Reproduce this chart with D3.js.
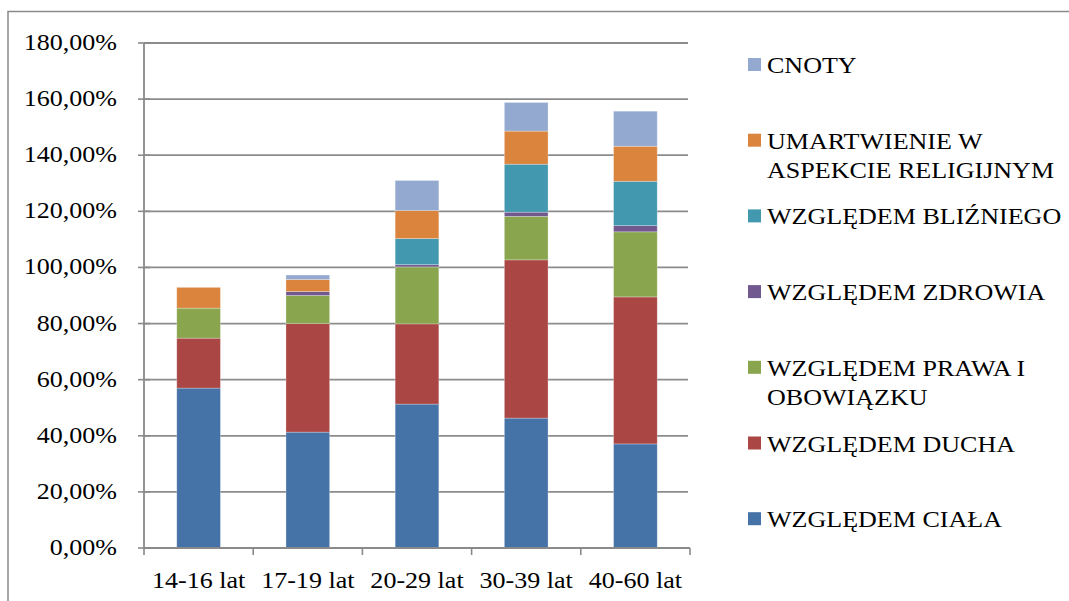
<!DOCTYPE html>
<html lang="pl">
<head>
  <meta charset="UTF-8" />
  <title>Umartwienia wg wieku</title>
  <script src="https://d3js.org/d3.v7.min.js"></script>
  <style>
    body { margin:0; padding:0; background:#fff; }
    svg { display:block; }
    text { font-family:"Liberation Serif","Times New Roman",serif; font-size:24px; fill:#000; }
  </style>
</head>
<body>
  <svg width="1069" height="601"></svg>

  <script>
  // data (percent)
  const categories = ["14-16 lat", "17-19 lat", "20-29 lat", "30-39 lat", "40-60 lat"];
  const cialo       = [57.0, 41.3, 51.3, 46.3, 37.1];
  const duch        = [17.8, 38.7, 28.6, 56.4, 52.4];
  const prawo       = [10.7, 10.0, 20.3, 15.5, 23.2];
  const zdrowie     = [0.0, 1.4, 0.8, 1.5, 2.2];
  const blizni      = [0.0, 0.0, 9.3, 17.1, 15.8];
  const umartwienie = [7.4, 4.3, 10.0, 11.8, 12.5];
  const cnoty       = [0.0, 1.6, 10.7, 10.2, 12.5];
  const yTicks = [0, 20, 40, 60, 80, 100, 120, 140, 160, 180];

  // stacking order bottom -> top
  const series = [
    { key: "cialo",       label: ["WZGLĘDEM CIAŁA"],                      color: "#4572A7", values: cialo },
    { key: "duch",        label: ["WZGLĘDEM DUCHA"],                      color: "#AA4643", values: duch },
    { key: "prawo",       label: ["WZGLĘDEM PRAWA I", "OBOWIĄZKU"],       color: "#89A54E", values: prawo },
    { key: "zdrowie",     label: ["WZGLĘDEM ZDROWIA"],                    color: "#71588F", values: zdrowie },
    { key: "blizni",      label: ["WZGLĘDEM BLIŹNIEGO"],                  color: "#4198AF", values: blizni },
    { key: "umartwienie", label: ["UMARTWIENIE W", "ASPEKCIE RELIGIJNYM"], color: "#DB843D", values: umartwienie },
    { key: "cnoty",       label: ["CNOTY"],                               color: "#93A9CF", values: cnoty }
  ];

  const table = categories.map((c, i) => {
    const row = { cat: c };
    series.forEach(s => row[s.key] = s.values[i]);
    return row;
  });

  const svg = d3.select("svg");
  const SX = 1.085;   // source text looks a bit wider than plain Times
  const fmt = v => d3.format(".2f")(v).replace(".", ",") + "%";

  const x = d3.scaleBand().domain(categories).range([144, 690]).paddingInner(0.6).paddingOuter(0.3);
  const y = d3.scaleLinear().domain([0, 180]).range([548, 43]);

  // outer frame (runs off right/bottom edge)
  svg.append("path")
    .attr("d", "M8,620 V11.5 H1080")
    .attr("fill", "none").attr("stroke", "#8a8a8a").attr("stroke-width", 1.5);

  // gridlines
  svg.append("g").selectAll("line").data(yTicks.filter(t => t > 0)).enter().append("line")
    .attr("x1", 144).attr("x2", 688)
    .attr("y1", d => y(d)).attr("y2", d => y(d))
    .attr("stroke", "#8c8c8c").attr("stroke-width", 1.8);

  // stacked bars
  const stack = d3.stack().keys(series.map(s => s.key))(table);
  const colorOf = new Map(series.map(s => [s.key, s.color]));
  svg.append("g").selectAll("g").data(stack).enter().append("g")
    .attr("fill", d => colorOf.get(d.key))
    .selectAll("rect").data(d => d.filter(p => p[1] - p[0] > 0)).enter().append("rect")
    .attr("x", d => x(d.data.cat))
    .attr("width", x.bandwidth())
    .attr("y", d => y(d[1]))
    .attr("height", d => y(d[0]) - y(d[1]))
    .attr("stroke", "rgba(255,255,255,0.35)").attr("stroke-width", 0.8);

  // y axis
  const yAxis = svg.append("g");
  yAxis.append("line").attr("x1", 144).attr("x2", 144).attr("y1", y(180)).attr("y2", y(0))
    .attr("stroke", "#8a8a8a").attr("stroke-width", 1.8);
  yAxis.selectAll("line.tick").data(yTicks).enter().append("line").attr("class", "tick")
    .attr("x1", 138).attr("x2", 150).attr("y1", d => y(d)).attr("y2", d => y(d))
    .attr("stroke", "#8a8a8a").attr("stroke-width", 1.6);
  yAxis.selectAll("text").data(yTicks).enter().append("text")
    .attr("transform", d => `translate(117,${y(d) + 7}) scale(${SX},1)`)
    .attr("text-anchor", "end")
    .text(fmt);

  // x axis
  const xAxis = svg.append("g");
  xAxis.append("line").attr("x1", 144).attr("x2", 690).attr("y1", y(0)).attr("y2", y(0))
    .attr("stroke", "#8a8a8a").attr("stroke-width", 1.8);
  const bounds = categories.map(c => x(c) - x.step() * x.paddingInner() / 2).concat([690]);
  bounds[0] = 144;
  xAxis.selectAll("line.tick").data(bounds).enter().append("line").attr("class", "tick")
    .attr("x1", d => d).attr("x2", d => d).attr("y1", y(0)).attr("y2", y(0) + 7)
    .attr("stroke", "#8a8a8a").attr("stroke-width", 1.6);
  xAxis.selectAll("text").data(categories).enter().append("text")
    .attr("transform", d => `translate(${x(d) + x.bandwidth() / 2},588) scale(${SX},1)`)
    .attr("text-anchor", "middle")
    .text(d => d);

  // legend: top to bottom reversed stacking order
  const legend = svg.append("g");
  const items = series.slice().reverse();
  items.forEach((s, i) => {
    const base = 73 + i * 75.7;
    legend.append("rect")
      .attr("x", 748).attr("y", base - 15).attr("width", 13).attr("height", 13)
      .attr("fill", s.color);
    s.label.forEach((ln, j) => {
      legend.append("text")
        .attr("transform", `translate(767,${base + j * 29}) scale(${SX},1)`)
        .text(ln);
    });
  });
  </script>
</body>
</html>
